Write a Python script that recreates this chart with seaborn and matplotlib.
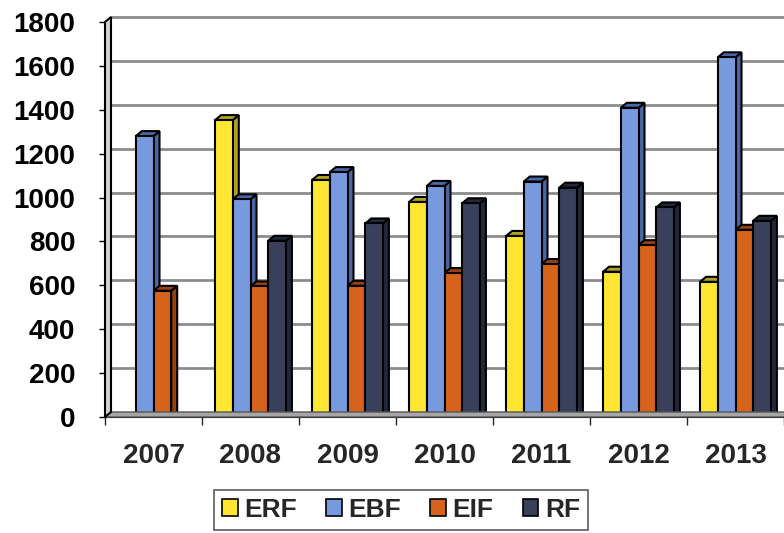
import numpy as np
import pandas as pd
import matplotlib.pyplot as plt
import seaborn as sns
from matplotlib.patches import Polygon, Patch
from matplotlib.colors import to_rgb
from matplotlib.transforms import IdentityTransform, ScaledTranslation

sns.set_style("white")
plt.rcParams['font.family'] = ['Liberation Sans', 'DejaVu Sans']
plt.rcParams['font.weight'] = 'bold'

# data
years = ['2007', '2008', '2009', '2010', '2011', '2012', '2013']
series = ['ERF', 'EBF', 'EIF', 'RF']
erf = [np.nan, 1353, 1080, 980, 825, 662, 616]
ebf = [1280, 992, 1116, 1053, 1073, 1409, 1639]
eif = [575, 595, 598, 656, 697, 783, 853]
rf = [np.nan, 803, 882, 974, 1045, 955, 894]
yticks = [0, 200, 400, 600, 800, 1000, 1200, 1400, 1600, 1800]

colors = ['#FFE633', '#7799DD', '#D5631C', '#38405A']
side_colors = ['#B3A21E', '#4A67A6', '#96420F', '#22283A']

df = pd.DataFrame({
    'year': years * 4,
    'series': sum([[s] * len(years) for s in series], []),
    'value': erf + ebf + eif + rf,
})
df = df.dropna()

W, H = 784, 533
fig = plt.figure(figsize=(W / 100, H / 100), dpi=100)
ax = fig.add_axes([105 / W, (H - 417) / H, (W - 105) / W, (417 - 22) / H])

sns.barplot(data=df, x='year', y='value', hue='series', order=years,
            hue_order=series, palette=colors, saturation=1, width=0.73, ax=ax,
            edgecolor='black', linewidth=1.5, legend=False, zorder=3)

ax.set_xlim(-0.5, 6.5)
ax.set_ylim(0, 1800)
ax.set_yticks(yticks)
ax.set_xlabel('')
ax.set_ylabel('')
ax.tick_params(axis='y', labelsize=20, length=4.5, width=1, direction='out',
               left=True, pad=17, colors='black')
ax.tick_params(axis='x', labelsize=20, length=0, pad=19)
for lab in ax.get_xticklabels() + ax.get_yticklabels():
    lab.set_fontweight('bold')
ax.set_xticks(np.arange(-0.5, 7, 1), minor=True)
ax.tick_params(axis='x', which='minor', length=6, width=1, bottom=True, direction='out')
for s in ['top', 'right']:
    ax.spines[s].set_visible(False)
ax.spines['left'].set_visible(False)
ax.spines['bottom'].set_color('black')
ax.grid(False)

dx, dy = 6, 5

# back wall gridlines
grid_tr = ax.get_yaxis_transform() + ScaledTranslation(dx / 100, dy / 100, fig.dpi_scale_trans)
for t in yticks[1:]:
    ax.plot([0, 1], [t, t], transform=grid_tr, color='#8C8C8C', lw=2, zorder=1,
            clip_on=False)

fig.canvas.draw()

# floor and left wall
x0, yb = ax.transData.transform((-0.5, 0))
x1 = W
_, yt = ax.transData.transform((-0.5, 1800))
floor = Polygon([(x0, yb), (x1, yb), (x1 + dx, yb + dy), (x0 + dx, yb + dy)],
                closed=True, transform=IdentityTransform(), facecolor='#A6A6A6',
                edgecolor='#555555', lw=1, zorder=2)
fig.add_artist(floor)
wall = Polygon([(x0, yb), (x0, yt), (x0 + dx, yt + dy), (x0 + dx, yb + dy)],
               closed=True, transform=IdentityTransform(), facecolor='#D0D0D0',
               edgecolor='black', lw=1.5, zorder=2)
fig.add_artist(wall)

# 3D sides and tops for the bars
for p in ax.patches:
    h = p.get_height()
    if not np.isfinite(h) or h <= 0:
        continue
    fc = p.get_facecolor()
    idx = min(range(4), key=lambda i: sum(abs(a - b) for a, b in zip(fc[:3], to_rgb(colors[i]))))
    (bx0, by0) = ax.transData.transform((p.get_x(), 0))
    (bx1, by1) = ax.transData.transform((p.get_x() + p.get_width(), h))
    side = Polygon([(bx1, by0), (bx1, by1), (bx1 + dx, by1 + dy), (bx1 + dx, by0 + dy)],
                   closed=True, transform=IdentityTransform(), facecolor=side_colors[idx],
                   edgecolor='black', lw=1.5, zorder=2.5)
    top = Polygon([(bx0, by1), (bx1, by1), (bx1 + dx, by1 + dy), (bx0 + dx, by1 + dy)],
                  closed=True, transform=IdentityTransform(), facecolor=side_colors[idx],
                  edgecolor='black', lw=1.5, zorder=2.5)
    ax.add_artist(side)
    ax.add_artist(top)

handles = [Patch(facecolor=c, edgecolor='black', lw=1.2) for c in colors]
leg = fig.legend(handles, series, loc='upper center', ncol=4,
                 bbox_to_anchor=(401 / W, 1 - 490 / H), frameon=True, fancybox=False,
                 prop={'size': 19, 'weight': 'bold'}, handlelength=0.6, handleheight=0.6,
                 handletextpad=0.25, columnspacing=1.1, borderpad=0.3, borderaxespad=0)
leg.get_frame().set_edgecolor('#333333')
leg.get_frame().set_linewidth(1.2)

fig.savefig('out.png', dpi=100)
